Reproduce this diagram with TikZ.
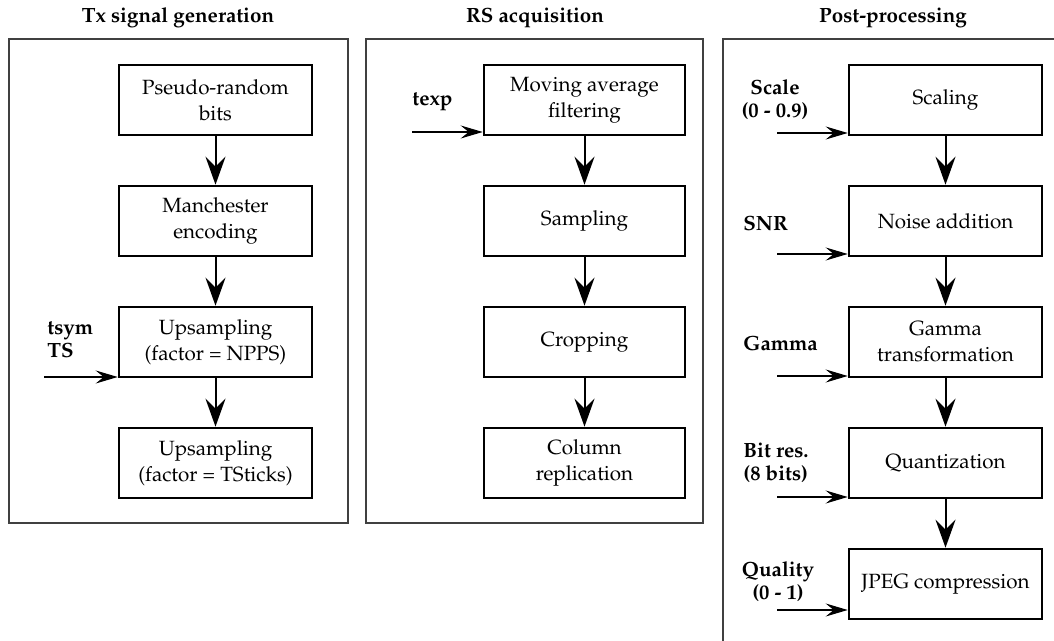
\documentclass[tikz,border=0pt]{standalone}
\usepackage[T1]{fontenc}
\usepackage{mathpazo}
\usetikzlibrary{arrows.meta}
\tikzset{
  block/.style={draw, line width=1.3pt, minimum width=96.5pt, minimum height=35pt,
    inner sep=0pt, align=center, font=\fontsize{10.3}{13}\selectfont},
  wideblock/.style={block, minimum width=100.5pt},
  panel/.style={draw=black!75, line width=0.8pt},
  title/.style={font=\fontsize{10.3}{13}\selectfont\bfseries},
  param/.style={inner sep=0pt, font=\fontsize{10.3}{11.5}\selectfont\bfseries},
  flow/.style={-{Stealth[length=14pt,width=10pt,inset=5pt]}, line width=1pt},
  feed/.style={-{Stealth[length=11pt,width=6.5pt,inset=4pt]}, line width=0.6pt},
}
\begin{document}
\begin{tikzpicture}[x=0.5pt, y=-0.5pt]
        \useasboundingbox (0,0) rectangle (1054,641);
        % panels
        \draw[panel] (9,39) rectangle (348,523);
        \draw[panel] (366,39) rectangle (703,523);
        \draw[panel] (1060,39) -- (723,39) -- (723,650);
        \node[title] (t-tx)   at (178,18) {Tx signal generation};
        \node[title] (t-rs)   at (535,18) {RS acquisition};
        \node[title] (t-post) at (893,18) {Post-processing};
        % nodes
        \node[block] (prb)   at (215.5,100) {Pseudo-random\\bits};
        \node[block] (manch) at (215.5,221) {Manchester\\encoding};
        \node[block] (up1)   at (215.5,342) {Upsampling\\(factor = NPPS)};
        \node[block] (up2)   at (215.5,463) {Upsampling\\(factor = TSticks)};
        \node[wideblock] (maf)  at (584.5,100) {Moving average\\filtering};
        \node[wideblock] (samp) at (584.5,221) {Sampling};
        \node[wideblock] (crop) at (584.5,342) {Cropping};
        \node[wideblock] (col)  at (584.5,463) {Column\\replication};
        \node[block] (scal)  at (945.5,100) {Scaling};
        \node[block] (noise) at (945.5,221) {Noise addition};
        \node[block] (gam)   at (945.5,342) {Gamma\\transformation};
        \node[block] (quant) at (945.5,463) {Quantization};
        \node[block] (jpeg)  at (945.5,584) {JPEG compression};
        % parameters
        \node[param, anchor=west, align=left] (p-tsym) at (47,340) {tsym\\TS};
        \node[param, anchor=west] (p-texp) at (412,102) {texp};
        \node[param, align=center] (p-scale) at (775,100) {Scale\\(0 - 0.9)};
        \node[param, anchor=west] (p-snr) at (743,223) {SNR};
        \node[param, anchor=west] (p-gam) at (743,343) {Gamma};
        \node[param, anchor=west, align=left] (p-bit) at (743,463) {Bit res.\\(8 bits)};
        \node[param, align=center] (p-qual) at (778,582) {Quality\\(0 - 1)};
        \coordinate (in-tsym)  at (44,377);
        \coordinate (in-texp)  at (412,132);
        \coordinate (in-scale) at (777,133);
        \coordinate (in-snr)   at (777,254);
        \coordinate (in-gam)   at (777,376);
        \coordinate (in-bit)   at (777,497);
        \coordinate (in-qual)  at (777,610);
        % arrows
        \draw[flow] (prb)   -- (manch);
        \draw[flow] (manch) -- (up1);
        \draw[flow] (up1)   -- (up2);
        \draw[flow] (maf)   -- (samp);
        \draw[flow] (samp)  -- (crop);
        \draw[flow] (crop)  -- (col);
        \draw[flow] (scal)  -- (noise);
        \draw[flow] (noise) -- (gam);
        \draw[flow] (gam)   -- (quant);
        \draw[flow] (quant) -- (jpeg);
        \draw[feed] (in-tsym)  -- (in-tsym -| up1.west);
        \draw[feed] (in-texp)  -- (in-texp -| maf.west);
        \draw[feed] (in-scale) -- (in-scale -| scal.west);
        \draw[feed] (in-snr)   -- (in-snr -| noise.west);
        \draw[feed] (in-gam)   -- (in-gam -| gam.west);
        \draw[feed] (in-bit)   -- (in-bit -| quant.west);
        \draw[feed] (in-qual)  -- (in-qual -| jpeg.west);
\end{tikzpicture}
\end{document}
